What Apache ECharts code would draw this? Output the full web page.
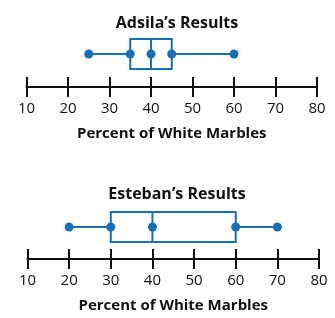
<!DOCTYPE html>
<html>
<head>
<meta charset="utf-8">
<script src="https://cdn.jsdelivr.net/npm/echarts@6/dist/echarts.min.js"></script>
<style>
  html, body { margin: 0; padding: 0; background: #fff; }
  #chart { width: 335px; height: 318px; }
</style>
</head>
<body>
<div id="chart"></div>
<script>
// five-number summaries: min, Q1, median, Q3, max
const titles = ["Adsila\u2019s Results", "Esteban\u2019s Results"];
const adsila = [25, 35, 40, 45, 60];
const esteban = [20, 30, 40, 60, 70];
const axisName = "Percent of White Marbles";
const axisMin = 10;
const axisMax = 80;
const axisStep = 10;

const BLUE = "#1570b8";
const summaries = [adsila, esteban];

// layout of the two panels (grid top / bottom / left / right, title top)
const panels = [
  { top: 21, bottom: 231, left: 26.5, right: 18, titleTop: 10 },
  { top: 195, bottom: 59, left: 27.5, right: 16, titleTop: 181 },
];

function boxItem(params, api) {
  const lo = api.coord([api.value(0), 0]);
  const q1 = api.coord([api.value(1), 0]);
  const md = api.coord([api.value(2), 0]);
  const q3 = api.coord([api.value(3), 0]);
  const hi = api.coord([api.value(4), 0]);
  const h = 15;
  const style = { stroke: BLUE, lineWidth: 2, fill: null };
  return {
    type: "group",
    children: [
      { type: "line", shape: { x1: lo[0], y1: lo[1], x2: q1[0], y2: q1[1] }, style },
      { type: "line", shape: { x1: q3[0], y1: q3[1], x2: hi[0], y2: hi[1] }, style },
      { type: "rect", shape: { x: q1[0], y: q1[1] - h, width: q3[0] - q1[0], height: 2 * h }, style },
      { type: "line", shape: { x1: md[0], y1: md[1] - h, x2: md[0], y2: md[1] + h }, style },
    ],
  };
}

const grid = [], xAxis = [], yAxis = [], series = [], title = [];
panels.forEach((p, i) => {
  grid.push({ top: p.top, bottom: p.bottom, left: p.left, right: p.right });
  title.push({
    text: titles[i], left: 172, top: p.titleTop, textAlign: "center",
    textStyle: { fontFamily: "Open Sans", fontWeight: "bold", fontSize: 16, color: "#111" },
  });
  const common = {
    type: "value", gridIndex: i, position: "bottom", min: axisMin, max: axisMax,
    interval: axisStep, splitLine: { show: false },
  };
  xAxis.push(Object.assign({}, common, {
    name: axisName, nameLocation: "middle", nameGap: 39,
    nameTextStyle: { fontFamily: "Open Sans", fontWeight: "bold", fontSize: 15, color: "#111" },
    axisLine: { show: true, onZero: false, lineStyle: { color: "#111", width: 2 } },
    axisTick: { show: true, length: 10, lineStyle: { color: "#111", width: 2 } },
    axisLabel: { margin: 14, fontFamily: "Open Sans", fontSize: 15, color: "#111" },
  }));
  xAxis.push(Object.assign({}, common, {
    axisLine: { show: false, onZero: false },
    axisTick: { show: true, inside: true, length: 10, lineStyle: { color: "#111", width: 2 } },
    axisLabel: { show: false },
  }));
  yAxis.push({ type: "value", gridIndex: i, min: -1, max: 1, show: false });
  const s = summaries[i];
  series.push({
    type: "custom", xAxisIndex: 2 * i, yAxisIndex: i,
    renderItem: boxItem, data: [s.concat([0])], z: 2,
  });
  series.push({
    type: "scatter", xAxisIndex: 2 * i, yAxisIndex: i,
    symbolSize: 9, itemStyle: { color: BLUE, opacity: 1 },
    data: s.map((v) => [v, 0]), z: 3,
  });
});

const chart = echarts.init(document.getElementById("chart"));
chart.setOption({ animation: false, title, grid, xAxis, yAxis, series });
</script>
</body>
</html>
